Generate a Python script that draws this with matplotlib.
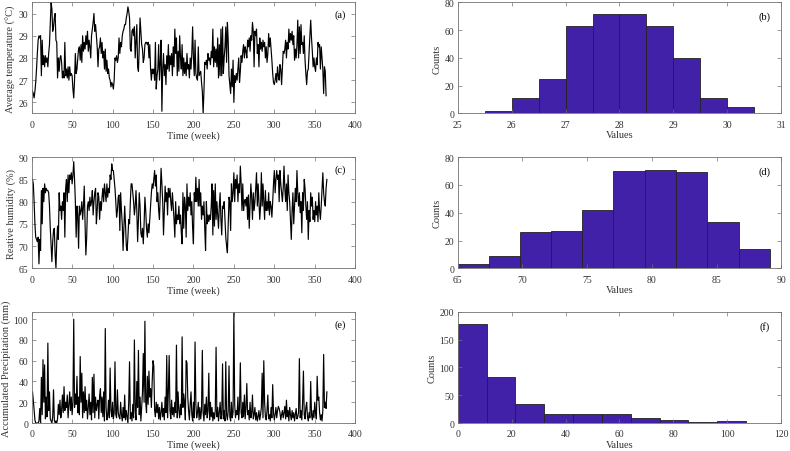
import numpy as np
import matplotlib
matplotlib.use("Agg")
import matplotlib.pyplot as plt

plt.rcParams['font.family'] = ['Liberation Serif', 'DejaVu Serif']
plt.rcParams['font.size'] = 7

# weekly average temperature (°C)
temp = [
    26.5, 26.4, 26.2, 26.5, 26.9, 27.5, 28.2, 28.8, 29.0, 28.9,
    29.0, 27.2, 28.8, 27.7, 28.1, 27.6, 28.1, 27.8, 28.0, 27.6,
    28.2, 28.6, 29.5, 30.5, 30.2, 29.2, 29.4, 29.8, 30.0, 28.8,
    28.7, 27.1, 28.0, 27.4, 28.0, 28.1, 27.8, 27.1, 27.4, 27.1,
    28.7, 27.2, 27.5, 27.1, 27.6, 27.0, 27.6, 27.2, 27.3, 27.2,
    26.6, 26.2, 27.0, 28.2, 27.3, 27.5, 28.0, 28.4, 28.5, 27.9,
    28.6, 27.8, 29.0, 28.3, 28.7, 28.4, 29.0, 28.6, 29.2, 28.3,
    28.8, 28.5, 28.0, 29.0, 29.3, 29.6, 30.0, 29.2, 29.5, 29.0,
    28.5, 27.6, 28.4, 28.5, 28.9, 28.2, 28.7, 28.0, 28.3, 27.5,
    28.4, 27.4, 27.9, 27.3, 27.5, 27.1, 27.0, 26.7, 26.9, 26.8,
    26.6, 27.0, 28.0, 27.9, 28.1, 27.8, 28.0, 28.9, 28.2, 28.7,
    28.5, 29.0, 29.2, 29.3, 29.5, 29.5, 29.8, 30.0, 30.3, 30.1,
    29.8, 28.4, 28.3, 29.2, 29.3, 29.0, 29.4, 28.0, 28.8, 29.5,
    27.6, 27.4, 28.5, 29.8, 29.2, 28.6, 28.4, 27.8, 28.0, 28.6,
    28.7, 28.7, 28.6, 28.7, 28.0, 28.6, 27.5, 27.0, 27.5, 27.3,
    27.5, 27.0, 28.7, 26.6, 27.2, 27.5, 28.6, 27.0, 27.8, 28.8,
    25.6, 27.5, 28.2, 27.2, 27.7, 26.8, 28.1, 27.5, 28.6, 27.4,
    28.1, 27.7, 28.2, 27.2, 28.5, 27.6, 29.3, 28.2, 28.9, 27.2,
    28.3, 27.4, 29.0, 28.0, 27.5, 28.6, 27.2, 28.0, 27.3, 27.8,
    27.2, 28.2, 27.5, 27.7, 27.1, 28.0, 27.5, 28.2, 29.4, 28.0,
    27.2, 28.8, 27.3, 27.1, 27.0, 28.5, 27.2, 27.3, 27.4, 26.9,
    26.5, 25.5, 26.5, 27.8, 27.7, 27.9, 27.5, 28.2, 27.9, 28.0,
    27.7, 28.3, 28.0, 29.3, 27.6, 28.5, 27.8, 28.4, 27.6, 28.9,
    27.1, 28.6, 27.2, 29.3, 27.2, 29.4, 27.3, 28.0, 28.5, 29.4,
    27.8, 29.6, 28.8, 27.2, 26.8, 26.4, 27.5, 26.7, 27.9, 26.0,
    27.2, 26.9, 27.3, 27.0, 27.5, 28.0, 26.9, 27.4, 28.1, 27.8,
    28.3, 28.6, 28.0, 28.5, 28.3, 28.0, 28.8, 28.5, 28.9, 28.3,
    29.0, 28.8, 29.6, 29.2, 27.6, 29.2, 29.0, 29.3, 28.2, 28.6,
    27.6, 28.9, 28.4, 28.7, 28.3, 28.8, 28.5, 28.7, 28.0, 28.5,
    27.8, 28.2, 29.1, 28.5, 28.9, 28.4, 27.9, 27.3, 26.9, 26.8,
    27.0, 27.3, 26.9, 27.6, 27.2, 27.0, 27.7, 27.5, 26.8, 27.6,
    28.3, 28.2, 28.4, 28.8, 28.0, 28.7, 28.4, 29.3, 28.7, 29.1,
    28.8, 29.2, 28.6, 29.0, 27.9, 28.4, 28.0, 28.6, 29.7, 28.0,
    29.4, 28.2, 29.5, 28.6, 28.7, 28.2, 29.0, 27.9, 27.3, 26.8,
    27.4, 27.5, 28.3, 29.0, 29.7, 28.9, 28.3, 27.6, 28.0, 27.6,
    27.4, 28.0, 27.7, 28.7, 28.5, 28.6, 27.5, 28.5, 28.0, 27.5,
    26.4, 27.6, 27.4, 26.3,
]

# weekly relative humidity (%)
hum = [
    85, 84, 80, 75, 72, 71.5, 71, 72, 66, 71.5,
    69, 82.5, 75, 83, 80, 84, 82, 83, 82.5, 82.5,
    82, 79, 74, 70, 66.5, 71, 73.5, 74, 68, 65,
    71, 74.5, 71.5, 82, 78, 79, 76, 80, 78, 82,
    72, 83, 85, 80, 86, 82, 86, 85, 86.5, 84,
    86, 89, 85, 80, 72, 79, 77, 69.5, 79, 77,
    78, 80, 76, 79, 83.5, 75, 68, 72, 79, 80,
    78, 81, 79, 80, 82.5, 77, 80, 82, 83, 75,
    78, 82, 81, 76, 80, 78, 81, 83, 80, 84,
    82, 80, 84, 81, 83, 82, 86, 85, 88.5, 87,
    87, 85, 83, 80, 76.5, 78, 81, 81.5, 73.5, 82,
    78, 75, 69, 74, 79, 75, 70, 69, 72, 76,
    75, 80, 84, 84, 82, 80, 77, 79, 82.5, 78,
    71, 76, 82, 79, 73, 72, 74, 70.5, 75, 81,
    78, 74, 72, 75, 73, 76, 79, 82, 84, 83,
    85, 87, 83.5, 86, 80, 82, 78, 76, 82, 87.5,
    84, 80, 72.5, 78, 83.5, 80, 82, 77, 83, 81,
    83, 80, 78, 82, 79, 76, 72, 80, 75, 77,
    76, 79, 75, 77, 73, 70.5, 82, 74, 81, 79,
    72, 84, 78, 81, 79, 82, 77, 80, 74, 70.5,
    82, 80, 85.5, 80, 83, 79, 85, 79, 82, 76,
    79, 77, 80, 74, 69, 80, 75, 77, 75.5, 77,
    76, 79, 84, 72.5, 82.5, 74.5, 84, 76, 80, 77,
    74, 79, 82, 76, 72.5, 79, 78.5, 80, 76, 72,
    70, 68.5, 75, 81, 80, 73.5, 84, 80, 82, 86.5,
    80, 85, 83, 86, 80, 84, 82, 88, 84, 78,
    84, 78, 80, 80.5, 79, 81, 76, 81.5, 74, 79,
    84, 81, 76, 82, 78, 80, 83, 86.5, 79, 84,
    80, 76, 79, 86.5, 79, 84, 80, 76, 82.5, 78,
    80, 78, 82, 77, 80, 79, 76.5, 80, 84, 87,
    82, 85, 87, 85, 86, 80, 87, 84, 82, 80,
    83, 88, 83, 80, 84, 78, 86, 82, 80, 76,
    71.5, 78, 82, 75, 79, 83, 80, 87, 82, 79,
    82, 77.5, 80, 73, 82, 78, 85, 83, 79, 76,
    80, 71.5, 78, 75.5, 82, 79, 81, 76, 78, 75.5,
    80, 77, 79, 75.5, 82, 78, 76, 79, 83, 86.5,
    82, 80, 79, 83, 85,
]

# weekly accumulated precipitation (mm)
prec = [
    30, 22, 12, 3, 0, 0, 0, 0, 2, 14,
    0, 44, 8, 61, 20, 56, 4, 25, 6, 77,
    12, 30, 4, 2, 0, 6, 32, 3, 0, 2,
    0, 4, 18, 8, 22, 5, 12, 27, 10, 35,
    12, 20, 15, 27, 5, 18, 30, 12, 25, 8,
    20, 100, 15, 28, 18, 45, 10, 25, 8, 64,
    20, 48, 5, 30, 10, 35, 12, 22, 4, 15,
    28, 8, 20, 3, 44, 10, 47, 5, 25, 12,
    18, 22, 4, 26, 33, 10, 25, 6, 30, 2,
    91, 15, 3, 8, 22, 5, 53, 12, 6, 20,
    4, 10, 59, 8, 5, 32, 10, 6, 4, 20,
    8, 2, 15, 5, 27, 3, 12, 6, 0, 20,
    59, 4, 10, 2, 18, 5, 80, 12, 3, 40,
    15, 70, 8, 25, 2, 15, 30, 67, 20, 98,
    20, 10, 45, 18, 50, 25, 33, 15, 40, 60,
    55, 12, 6, 20, 10, 18, 4, 15, 3, 10,
    20, 6, 14, 3, 25, 10, 65, 5, 30, 65,
    12, 4, 22, 8, 15, 6, 20, 10, 75, 5,
    30, 12, 5, 18, 8, 83, 15, 28, 20, 3,
    60, 58, 25, 12, 3, 18, 30, 8, 2, 20,
    5, 78, 18, 5, 10, 20, 3, 15, 4, 12,
    70, 10, 2, 18, 8, 25, 5, 12, 48, 3,
    20, 6, 15, 2, 10, 4, 12, 73, 6, 15,
    2, 10, 20, 4, 8, 57, 4, 12, 2, 59,
    8, 3, 12, 55, 6, 2, 20, 5, 10, 107,
    18, 5, 12, 8, 25, 3, 15, 58, 10, 5,
    20, 6, 27, 4, 15, 38, 8, 12, 3, 20,
    5, 10, 27, 4, 8, 15, 3, 10, 2, 6,
    12, 3, 8, 15, 48, 5, 60, 20, 6, 3,
    12, 27, 4, 8, 2, 15, 5, 37, 10, 3,
    8, 15, 5, 12, 16, 14, 10, 3, 8, 12,
    5, 10, 16, 4, 22, 6, 12, 2, 15, 8,
    3, 12, 5, 10, 2, 8, 14, 4, 6, 10,
    62, 5, 12, 3, 20, 50, 8, 4, 15, 20,
    6, 2, 10, 5, 40, 8, 3, 12, 5, 20,
    10, 4, 45, 22, 25, 10, 3, 8, 2, 12,
    66, 15, 20, 14, 30,
]

# histogram bins and counts
temp_edges = [25.5, 26.0, 26.5, 27.0, 27.5, 28.0, 28.5, 29.0, 29.5, 30.0, 30.5]
temp_counts = [2, 11, 25, 63, 72, 72, 63, 40, 11, 5]
hum_edges = [65.0, 67.4, 69.8, 72.2, 74.6, 77.0, 79.5, 81.9, 84.3, 86.7, 89.1]
hum_counts = [3, 9, 26, 27, 42, 70, 71, 69, 33, 14]
prec_edges = [0, 10.7, 21.4, 32.1, 42.8, 53.5, 64.2, 74.9, 85.6, 96.3, 107]
prec_counts = [178, 82, 35, 16, 17, 17, 9, 6, 1, 3]

bar_color = '#4121A8'
axis_color = '0.45'
text_color = '0.2'

fig = plt.figure(figsize=(7.9, 4.52), dpi=100)

left_x, right_x = 0.0401, 0.5794
width = 0.4095
rows = [0.7467, 0.4042, 0.0619]
height = 0.2458


def style(ax):
    for s in ax.spines.values():
        s.set_color(axis_color)
        s.set_linewidth(0.6)
    ax.tick_params(direction='in', top=True, right=True, length=3, width=0.5,
                   color=axis_color, labelcolor=text_color, labelsize=7)
    ax.tick_params(axis='x', pad=4.5)
    ax.tick_params(axis='y', pad=2.5)


series = [
    (temp, (25.5, 30.5), [26, 27, 28, 29, 30], 'Average temperature (°C)', '(a)'),
    (hum, (65, 90), [65, 70, 75, 80, 85, 90], 'Reative humidity (%)', '(c)'),
    (prec, (0, 107), [0, 20, 40, 60, 80, 100], 'Accumulated Precipitation (mm)', '(e)'),
]
hists = [
    (temp_edges, temp_counts, (25, 31), np.arange(25, 32, 1), (0, 80), [0, 20, 40, 60, 80], '(b)'),
    (hum_edges, hum_counts, (65, 90), np.arange(65, 91, 5), (0, 80), [0, 20, 40, 60, 80], '(d)'),
    (prec_edges, prec_counts, (0, 120), np.arange(0, 121, 20), (0, 200), [0, 50, 100, 150, 200], '(f)'),
]

for i, (vals, ylim, yticks, ylabel, tag) in enumerate(series):
    ax = fig.add_axes([left_x, rows[i], width, height])
    weeks = np.arange(1, len(vals) + 1)
    ax.plot(weeks, vals, color='black', lw=0.85)
    ax.set_xlim(0, 400)
    ax.set_xticks(np.arange(0, 401, 50))
    ax.set_ylim(*ylim)
    ax.set_yticks(yticks)
    ax.set_xlabel('Time (week)', fontsize=7.5, color=text_color, labelpad=1)
    ax.set_ylabel(ylabel, fontsize=7.5, color=text_color, labelpad=2)
    ax.text(0.954, 0.89, tag, transform=ax.transAxes, ha='center', va='center',
            fontsize=7.5, color='black')
    style(ax)

for i, (edges, counts, xlim, xticks, ylim, yticks, tag) in enumerate(hists):
    ax = fig.add_axes([right_x, rows[i], width, height])
    ax.hist(edges[:-1], bins=edges, weights=counts, color=bar_color,
            edgecolor='#222222', linewidth=0.6)
    ax.set_xlim(*xlim)
    ax.set_xticks(xticks)
    ax.set_ylim(*ylim)
    ax.set_yticks(yticks)
    ax.set_xlabel('Values', fontsize=7.5, color=text_color, labelpad=1)
    ax.set_ylabel('Counts', fontsize=7.5, color=text_color, labelpad=2)
    ax.text(0.948, 0.875, tag, transform=ax.transAxes, ha='center', va='center',
            fontsize=7.5, color='black')
    style(ax)

fig.savefig('out.png', dpi=100)
